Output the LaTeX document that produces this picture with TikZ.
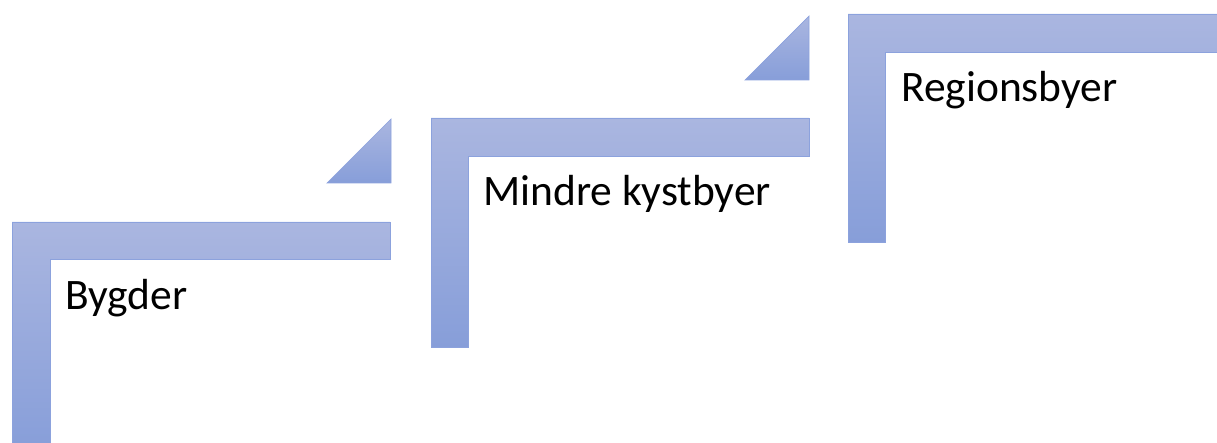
\documentclass[tikz,border=0pt]{standalone}
\usepackage{fontspec}
\setmainfont{Carlito}
\definecolor{stairtop}{RGB}{170,182,224}
\definecolor{stairbot}{RGB}{135,158,217}
\definecolor{stairline}{RGB}{140,162,221}
\begin{document}
\begin{tikzpicture}[x=1pt,y=-1pt]
\tikzstyle{every node}+=[inner sep=0pt]
\tikzstyle{stair}=[top color=stairtop, bottom color=stairbot, draw=stairline, line width=0.7pt]
\tikzstyle{label}=[anchor=base west, font=\fontsize{43.5}{52}\selectfont]
\useasboundingbox (0,0) rectangle (1217,443);
% steps
\shade[stair] (12,222) -- (390,222) -- (390,259) -- (50,259) -- (50,450) -- (12,450) -- cycle;
\shade[stair] (431,118) -- (809,118) -- (809,156) -- (468,156) -- (468,347) -- (431,347) -- cycle;
\shade[stair] (848,14) -- (1222,14) -- (1222,52) -- (885,52) -- (885,242) -- (848,242) -- cycle;
% arrows between steps
\shade[stair] (327,183) -- (391,119) -- (391,183) -- cycle;
\shade[stair] (745,80) -- (809,16) -- (809,80) -- cycle;
% text
\node[label] (bygder) at (65,309) {Bygder};
\node[label] (kyst) at (483,206) {Mindre kystbyer};
\node[label] (region) at (901,102) {Regionsbyer};
\end{tikzpicture}
\end{document}
